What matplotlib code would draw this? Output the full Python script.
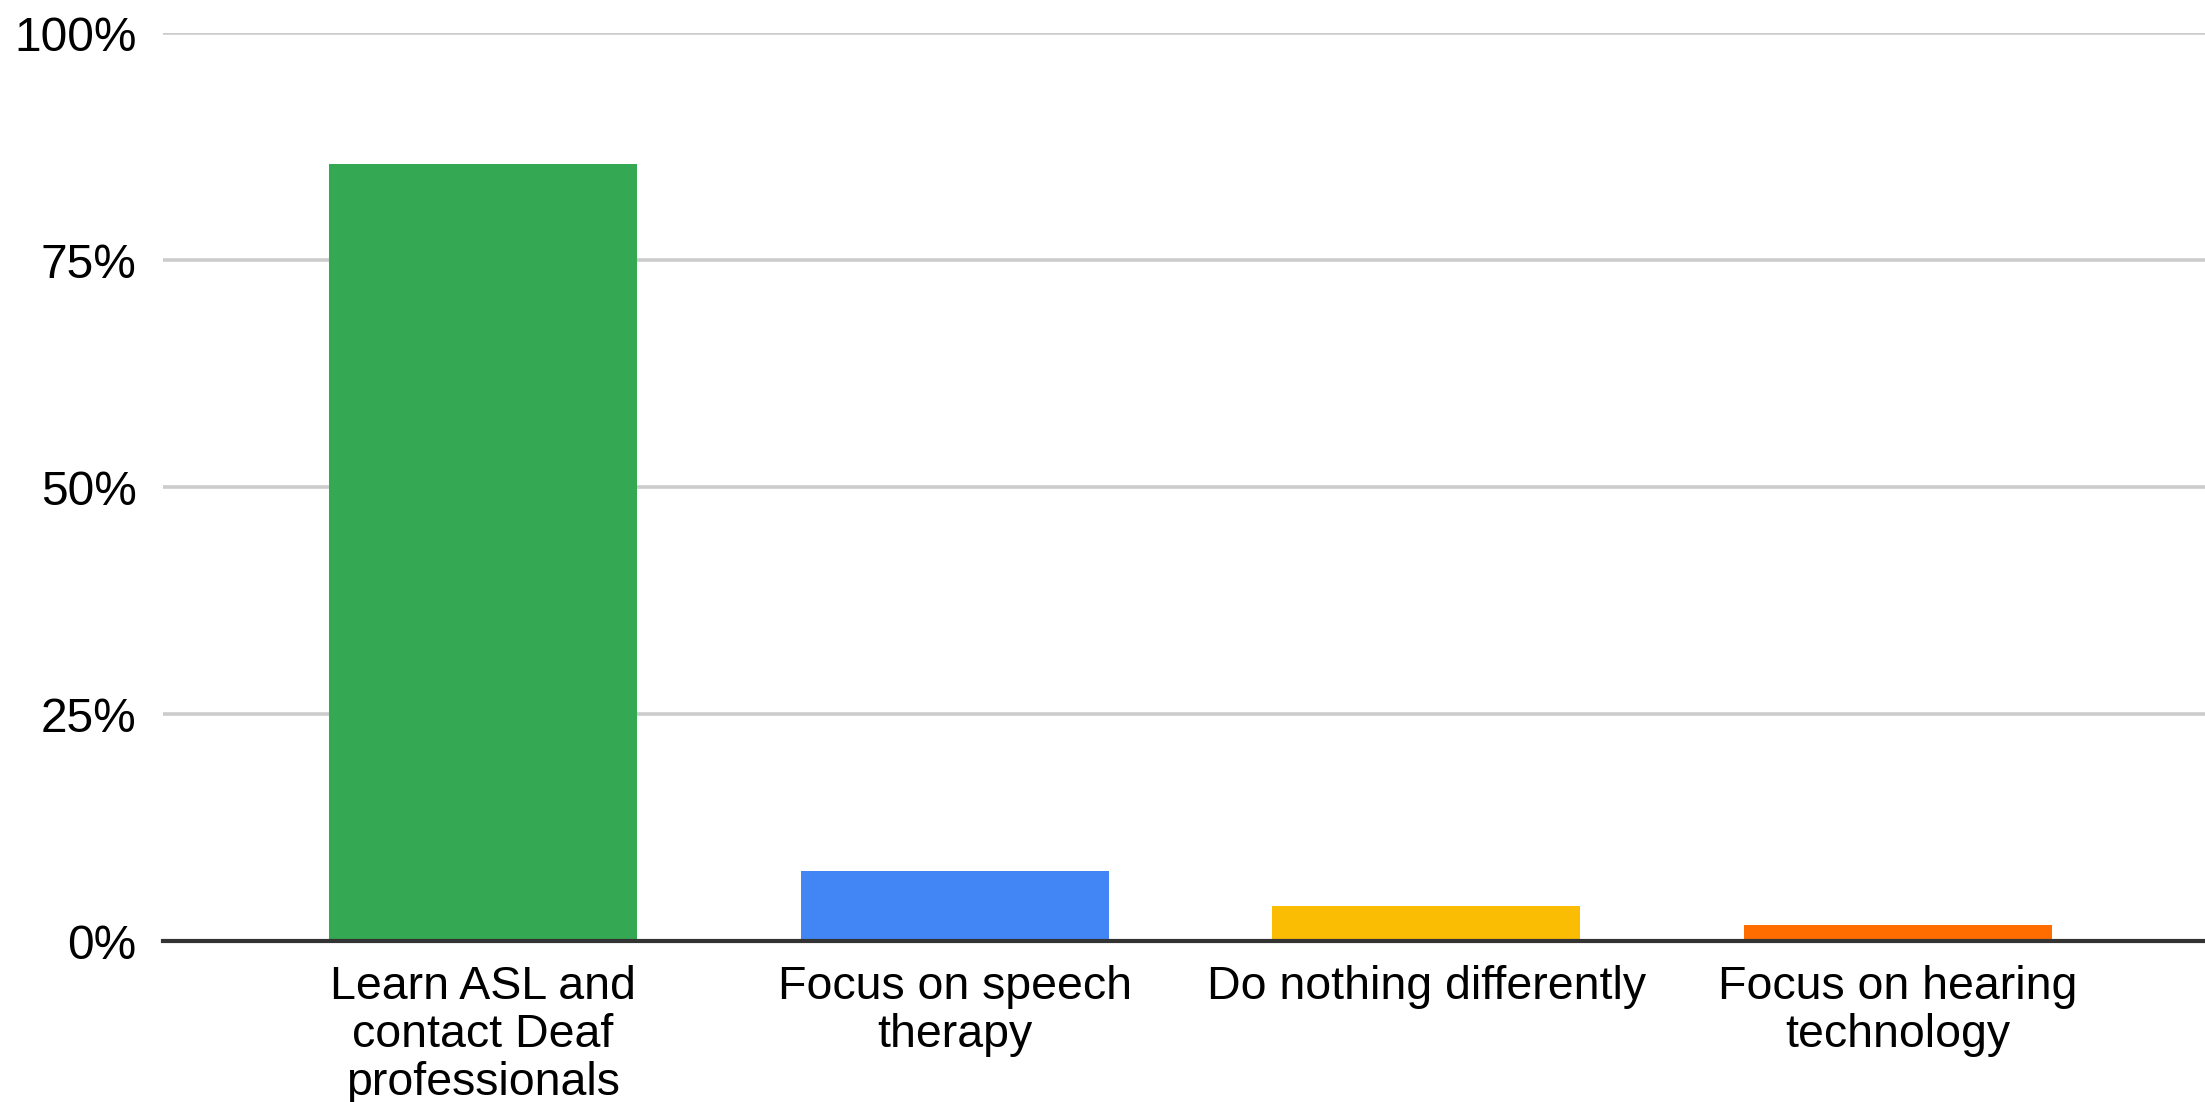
import numpy as np
import matplotlib
matplotlib.use("Agg")
import matplotlib.pyplot as plt
from matplotlib.ticker import FuncFormatter

plt.rcParams['font.family'] = ['Liberation Sans', 'DejaVu Sans']

# survey answers (share of respondents, %)
categories = ["Learn ASL and\ncontact Deaf\nprofessionals",
              "Focus on speech\ntherapy",
              "Do nothing differently",
              "Focus on hearing\ntechnology"]
shares = [85.6, 7.7, 3.9, 1.8]
colors = ["#34a853", "#4285f4", "#fbbc04", "#ff6d01"]
yticks = [0, 25, 50, 75, 100]

fig = plt.figure(figsize=(22.05, 11.02), dpi=100)
ax = fig.add_axes([0.0739, 0.146, 0.9261, 0.824])

x = np.arange(len(categories))
ax.bar(x, shares, width=0.653, color=colors, zorder=3)

ax.set_xlim(-0.679, 3.651)
ax.set_ylim(0, 100)
ax.set_yticks(yticks)
ax.yaxis.set_major_formatter(FuncFormatter(lambda v, _: f"{v:.0f}%"))
ax.set_xticks(x)
ax.set_xticklabels(categories, linespacing=1.12)

ax.grid(axis='y', color='#cccccc', linewidth=2.6, zorder=0)
ax.tick_params(axis='y', length=0, pad=19, labelsize=34.5, labelcolor='black')
ax.tick_params(axis='x', length=0, pad=17, labelsize=33.5, labelcolor='black')

for side in ['top', 'right', 'left']:
    ax.spines[side].set_visible(False)
ax.spines['bottom'].set_color('#333333')
ax.spines['bottom'].set_linewidth(3)
ax.spines['bottom'].set_zorder(4)

fig.savefig("out.png", dpi=100)
